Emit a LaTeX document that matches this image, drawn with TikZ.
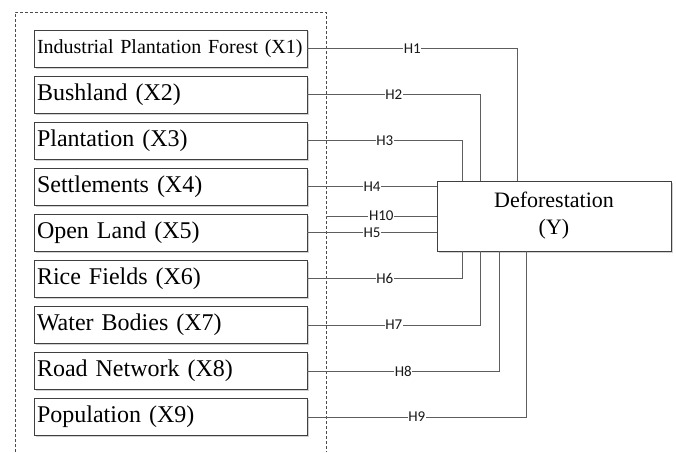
\documentclass[tikz,border=0pt]{standalone}
\usepackage{fontspec}
\setmainfont{Liberation Serif}
\newfontfamily\labfont{Carlito}
\usetikzlibrary{shadows}
\definecolor{boxline}{HTML}{404040}
\definecolor{conline}{HTML}{5E5E5E}
\begin{document}
\begin{tikzpicture}[x=1pt,y=-1pt,
  varbox/.style={draw=boxline, line width=0.9pt, fill=white,
    drop shadow={shadow xshift=1.5pt, shadow yshift=-1.5pt, fill=black!18, opacity=1},
    minimum width=273pt, minimum height=37pt, text width=267pt, inner sep=3pt,
    align=left, font=\fontsize{24}{28}\selectfont},
  ybox/.style={draw=boxline, line width=0.9pt, fill=white,
    drop shadow={shadow xshift=1.5pt, shadow yshift=-1.5pt, fill=black!18, opacity=1},
    minimum width=234pt, minimum height=70pt, align=center,
    font=\fontsize{22}{27}\selectfont},
  con/.style={draw=conline, line width=0.9pt},
  lab/.style={fill=white, inner sep=0.6pt, text=black!90, font=\labfont\fontsize{15}{17}\selectfont},
  frame/.style={draw=black!70, line width=0.8pt, dash pattern=on 3pt off 2pt}
]
\useasboundingbox (0,0) rectangle (676,452);
% dashed group frame (open at the bottom)
\draw[frame] (15,452) -- (15,12) -- (326,12) -- (326,452);
\coordinate (g10) at (326,216);

\node[varbox, font=\fontsize{20}{24}\selectfont] (x1) at (170.5,48.5) {Industrial Plantation Forest (X1)};
\node[varbox] (x2) at (170.5,94.5) {Bushland (X2)};
\node[varbox] (x3) at (170.5,140.5) {Plantation (X3)};
\node[varbox] (x4) at (170.5,186.5) {Settlements (X4)};
\node[varbox] (x5) at (170.5,232.5) {Open Land (X5)};
\node[varbox] (x6) at (170.5,278.5) {Rice Fields (X6)};
\node[varbox] (x7) at (170.5,325) {Water Bodies (X7)};
\node[varbox] (x8) at (170.5,371) {Road Network (X8)};
\node[varbox] (x9) at (170.5,417) {Population (X9)};

\node[ybox] (y) at (554,216) {Deforestation\\(Y)};

% column positions of the vertical legs
\coordinate (c1) at (517,0);
\coordinate (c2) at (480,0);
\coordinate (c3) at (462,0);
\coordinate (c8) at (499,0);
\coordinate (c9) at (526,0);

% connectors entering from above
\draw[con] (x1.east) -- node[lab]{H1} (x1.east -| c1) -- (y.north -| c1);
\draw[con] (x2.east) -- node[lab]{H2} (x2.east -| c2) -- (y.north -| c2);
\draw[con] (x3.east) -- node[lab]{H3} (x3.east -| c3) -- (y.north -| c3);
% connectors entering from the left
\draw[con] (x4.east) -- node[lab]{H4} (x4.east -| y.west);
\draw[con] (g10) -- node[lab]{H10} (g10 -| y.west);
\draw[con] (x5.east) -- node[lab]{H5} (x5.east -| y.west);
% connectors entering from below
\draw[con] (x6.east) -- node[lab]{H6} (x6.east -| c3) -- (y.south -| c3);
\draw[con] (x7.east) -- node[lab]{H7} (x7.east -| c2) -- (y.south -| c2);
\draw[con] (x8.east) -- node[lab]{H8} (x8.east -| c8) -- (y.south -| c8);
\draw[con] (x9.east) -- node[lab]{H9} (x9.east -| c9) -- (y.south -| c9);
\end{tikzpicture}
\end{document}
